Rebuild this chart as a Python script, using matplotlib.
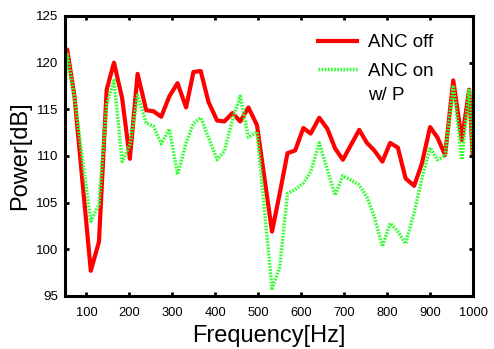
import matplotlib
matplotlib.use("Agg")
import matplotlib.pyplot as plt

plt.rcParams['font.family'] = ['Liberation Sans', 'DejaVu Sans']

# data
freq = [50, 55, 72, 91, 110, 129, 147, 164, 183, 201, 219, 239, 256, 274, 293,
        312, 332, 349, 366, 384, 404, 421, 440, 458, 477, 497, 532, 550, 568,
        586, 605, 622, 642, 661, 679, 697, 716, 735, 753, 770, 789, 807, 825,
        843, 863, 881, 900, 917, 935, 954, 974, 991, 999]
anc_off = [121.2, 121.4, 116.4, 107.1, 97.7, 100.8, 117.1, 120.0, 116.2, 109.7,
           118.8, 114.9, 114.8, 114.2, 116.4, 117.8, 115.2, 119.0, 119.1, 115.8,
           113.8, 113.7, 114.6, 113.7, 115.2, 113.3, 101.9, 106.0, 110.3, 110.6,
           113.0, 112.4, 114.1, 112.9, 110.8, 109.6, 111.2, 112.8, 111.4, 110.6,
           109.4, 111.4, 110.9, 107.6, 106.8, 109.2, 113.1, 112.0, 110.1, 118.1,
           111.7, 117.1, 110.3]
anc_on = [117.2, 120.9, 116.3, 109.5, 103.0, 104.8, 115.5, 118.1, 109.4, 111.2,
          116.5, 113.5, 113.2, 111.3, 112.9, 108.0, 111.4, 113.5, 114.1, 112.0,
          109.6, 110.5, 113.9, 116.4, 112.0, 112.6, 95.8, 98.1, 106.0, 106.4,
          107.1, 108.3, 111.4, 108.5, 105.8, 107.9, 107.4, 106.9, 105.6, 103.5,
          100.3, 102.8, 101.9, 100.6, 103.9, 107.6, 110.9, 109.6, 110.0, 117.6,
          109.6, 117.2, 110.3]
xticks = [100, 200, 300, 400, 500, 600, 700, 800, 900, 1000]
yticks = [95, 100, 105, 110, 115, 120, 125]

fig = plt.figure(figsize=(4.94, 3.49), dpi=100)
ax = fig.add_axes([0.1316, 0.1519, 0.8259, 0.8023])

ax.plot(freq, anc_off, color='#ff0000', lw=3.0, label='ANC off')
ax.plot(freq, anc_on, color='#33ff33', lw=2.5, linestyle=(0, (0.5, 0.4)),
        label='ANC on')

ax.set_xlim(50, 1000)
ax.set_ylim(95, 125)
ax.set_xticks(xticks)
ax.set_yticks(yticks)
ax.tick_params(direction='in', length=3, width=2, labelsize=9.6,
               top=True, right=True, pad=5)
ax.tick_params(axis='x', pad=8, labelsize=9.3)
for s in ax.spines.values():
    s.set_linewidth(2.2)

ax.set_xlabel('Frequency[Hz]', fontsize=17, labelpad=4)
ax.set_ylabel('Power[dB]', fontsize=17, labelpad=3)

leg = ax.legend(loc='upper left', bbox_to_anchor=(0.62, 0.935), frameon=False,
                fontsize=13.5, handlelength=2.1, handletextpad=0.55,
                labelspacing=0.6, borderpad=0, borderaxespad=0)

# second line of the "ANC on" label, placed under the legend text
fig.canvas.draw()
bb = leg.get_texts()[1].get_window_extent()
ax.annotate('w/ P', xy=(bb.x0, bb.y0), xycoords='figure pixels',
            xytext=(0, -17.5), textcoords='offset points', fontsize=13.5,
            va='bottom', ha='left')

fig.savefig('out.png', dpi=100)
